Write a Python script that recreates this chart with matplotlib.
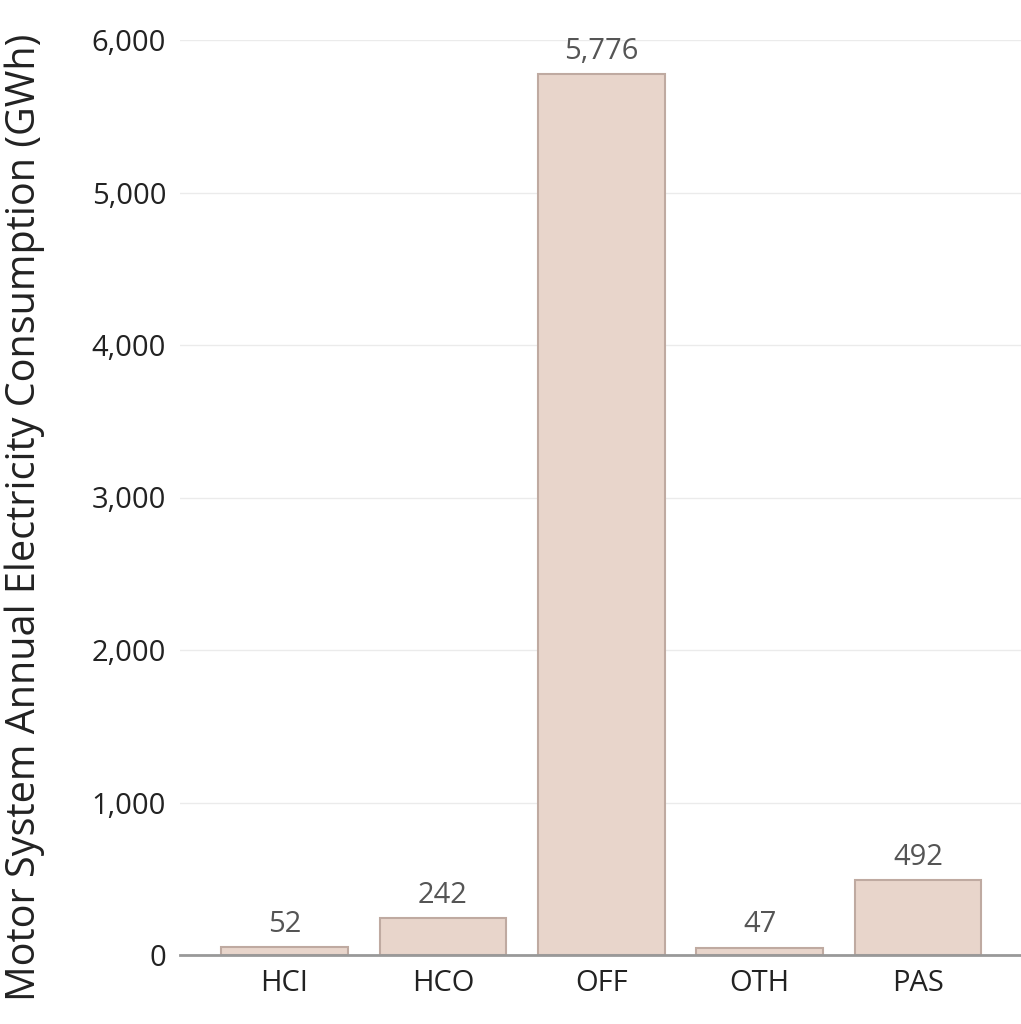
import matplotlib
matplotlib.use('Agg')
import matplotlib.pyplot as plt

categories = ['HCI', 'HCO', 'OFF', 'OTH', 'PAS']
values = [52, 242, 5776, 47, 492]
yticks = [0, 1000, 2000, 3000, 4000, 5000, 6000]

plt.rcParams['font.family'] = ['Open Sans', 'DejaVu Sans']

fig = plt.figure(figsize=(10.21, 10.24), dpi=100)
ax = fig.add_axes([180/1021, 69/1024, 841/1021, 915/1024])

x = range(len(categories))
ax.bar(x, values, width=0.8, color='#e8d5cb', edgecolor='#bfaaa1', linewidth=1.5, zorder=3)
for i, v in zip(x, values):
    ax.annotate('{:,}'.format(v), (i, v), xytext=(0, 6), textcoords='offset points',
                ha='center', va='bottom', fontsize=21, color='#555555', zorder=4)

ax.set_xlim(-0.66, 4.65)
ax.set_ylim(0, 6000)
ax.set_yticks(yticks)
ax.set_yticklabels(['{:,}'.format(t) for t in yticks])
ax.set_xticks(list(x))
ax.set_xticklabels(categories)
ax.tick_params(axis='both', length=0, labelsize=21, colors='#222222')
ax.tick_params(axis='y', pad=10)
ax.tick_params(axis='x', pad=10)
ax.grid(axis='y', color='#ebebeb', linewidth=1, zorder=0)
for s in ax.spines.values():
    s.set_visible(False)
ax.axhline(0, color='#999999', linewidth=2, zorder=5, clip_on=False)

# y title placed in figure coords, it runs almost the full height
fig.text(25/1021, 1 - 517/1024, 'Motor System Annual Electricity Consumption (GWh)',
         rotation=90, ha='center', va='center', fontsize=28.5, color='#222222')

fig.savefig('out.png', dpi=100)
